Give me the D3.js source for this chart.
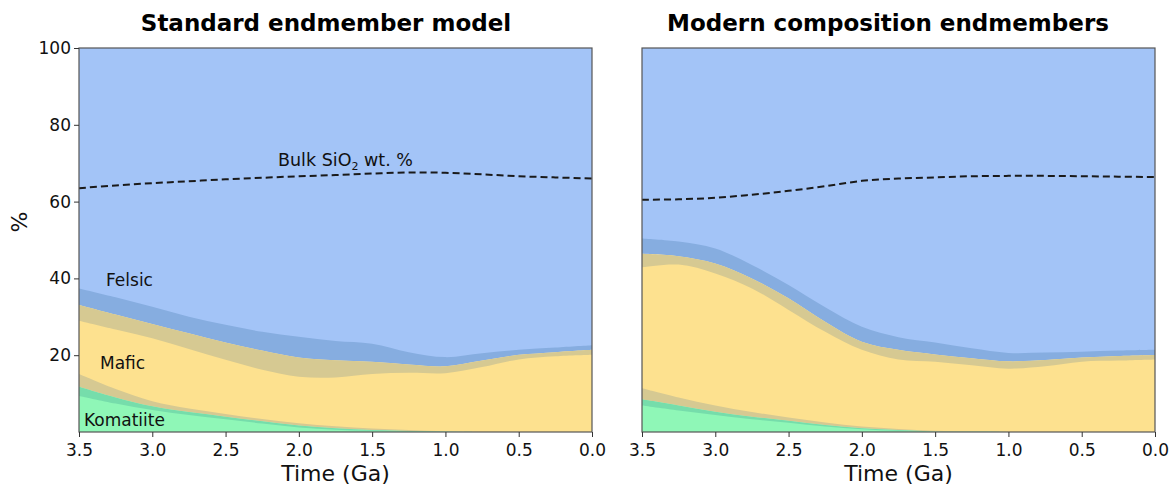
<!DOCTYPE html>
<html><head><meta charset="utf-8">
<script src="https://cdn.jsdelivr.net/npm/d3@7"></script>
<style>body{margin:0;background:#fff}svg{display:block;font-family:"DejaVu Sans",sans-serif}</style>
</head><body><svg id="c" width="1176" height="488"></svg>
<script>
const times = [3.5,3.25,3.0,2.75,2.5,2.25,2.0,1.75,1.5,1.25,1.0,0.75,0.5,0.25,0.0];
const xTicks = [3.5,3.0,2.5,2.0,1.5,1.0,0.5,0.0];
const yTicks = [20,40,60,80,100];
const panelTitles = ["Standard endmember model","Modern composition endmembers"];

// Standard model: komatiite/mafic boundary (low, mean, high)
const stdKomLo  = [9.4,7.4,5.7,4.4,3.3,2.2,1.2,0.6,0.3,0.1,0.05,0,0,0,0];
const stdKom    = [11.8,9.0,6.7,5.2,4.0,2.8,1.7,1.0,0.5,0.25,0.1,0.02,0,0,0];
const stdKomHi  = [15.1,11.2,8.0,6.1,4.7,3.4,2.3,1.5,0.9,0.5,0.2,0.05,0,0,0];
// Standard model: mafic/felsic boundary
const stdMafLo  = [29.0,26.7,24.4,21.6,18.8,16.2,14.4,14.2,15.1,15.4,15.3,16.9,18.9,19.7,20.1];
const stdMaf    = [33.1,30.6,28.1,25.7,23.3,21.2,19.4,18.7,18.3,17.6,17.1,18.6,20.1,20.8,21.4];
const stdMafHi  = [37.4,35.1,32.6,30.0,27.9,26.1,24.8,23.7,23.0,20.8,19.5,20.5,21.4,22.0,22.6];
const stdSiO2   = [63.5,64.2,64.8,65.3,65.8,66.2,66.6,66.9,67.3,67.6,67.5,67.1,66.6,66.3,66.0];

// Modern endmembers
const modKomLo  = [6.9,5.6,4.4,3.3,2.4,1.4,0.7,0.3,0.05,0,0,0,0,0,0];
const modKom    = [8.5,6.9,5.3,4.0,2.95,1.8,0.95,0.5,0.15,0.05,0,0,0,0,0];
const modKomHi  = [11.4,9.0,6.9,5.2,3.8,2.5,1.4,0.8,0.3,0.1,0,0,0,0,0];
const modMafLo  = [42.9,43.6,41.3,37.4,31.8,26.1,21.4,18.9,18.3,17.4,16.5,17.1,18.3,18.6,18.9];
const modMaf    = [46.4,45.8,43.9,40.0,34.8,28.7,23.5,21.4,20.2,19.2,18.4,18.75,19.4,19.8,20.05];
const modMafHi  = [50.4,49.6,47.8,43.5,38.3,32.5,27.4,24.7,23.3,21.8,20.6,20.7,20.9,21.2,21.4];
const modSiO2   = [60.5,60.6,61.0,61.8,62.8,64.0,65.4,66.0,66.3,66.6,66.7,66.7,66.6,66.5,66.4];

const panels = [
  {title:panelTitles[0], x0:79, x1:592, tx:326, kLo:stdKomLo,k:stdKom,kHi:stdKomHi,mLo:stdMafLo,m:stdMaf,mHi:stdMafHi,si:stdSiO2, labels:true, yaxis:true},
  {title:panelTitles[1], x0:642, x1:1155, tx:888, kLo:modKomLo,k:modKom,kHi:modKomHi,mLo:modMafLo,m:modMaf,mHi:modMafHi,si:modSiO2, labels:false, yaxis:false}
];
const C = {felsic:"#a3c4f7", felsicBand:"#86ade0", mafic:"#fde18f", maficBand:"#d6c992", kom:"#8ff7b7", komBand:"#76ddab"};
const svg = d3.select("#c");
const yTop = 48, yBot = 432;
const y = d3.scaleLinear().domain([0,100]).range([yBot,yTop]);
const curve = d3.curveCatmullRom.alpha(0.5);

panels.forEach((p,pi)=>{
  const x = d3.scaleLinear().domain([3.5,0]).range([p.x0,p.x1]);
  const g = svg.append("g");
  const cid = "clip"+pi;
  g.append("clipPath").attr("id",cid).append("rect").attr("x",p.x0).attr("y",yTop).attr("width",p.x1-p.x0).attr("height",yBot-yTop);
  const pg = g.append("g").attr("clip-path",`url(#${cid})`);
  const rows = times.map((t,i)=>({t, kLo:p.kLo[i], k:p.k[i], kHi:p.kHi[i], mLo:p.mLo[i], m:p.m[i], mHi:p.mHi[i], si:p.si[i]}));
  const area = (a,b)=>d3.area().curve(curve).x(d=>x(d.t)).y0(d=>y(Math.max(0,a(d)))).y1(d=>y(Math.max(0,b(d))));
  pg.append("path").attr("fill",C.felsic).attr("d",area(d=>d.m,d=>100)(rows));
  pg.append("path").attr("fill",C.mafic).attr("d",area(d=>d.k,d=>d.m)(rows));
  pg.append("path").attr("fill",C.kom).attr("d",area(d=>0,d=>d.k)(rows));
  pg.append("path").attr("fill",C.felsicBand).attr("d",area(d=>d.m,d=>d.mHi)(rows));
  pg.append("path").attr("fill",C.maficBand).attr("d",area(d=>d.mLo,d=>d.m)(rows));
  pg.append("path").attr("fill",C.maficBand).attr("d",area(d=>d.k,d=>d.kHi)(rows));
  pg.append("path").attr("fill",C.komBand).attr("d",area(d=>d.kLo,d=>d.k)(rows));
  pg.append("path").attr("fill","none").attr("stroke","#1a1a1a").attr("stroke-width",2).attr("stroke-dasharray","7,4")
    .attr("d",d3.line().curve(curve).x(d=>x(d.t)).y(d=>y(d.si))(rows));

  // frame
  g.append("rect").attr("x",p.x0).attr("y",yTop).attr("width",p.x1-p.x0).attr("height",yBot-yTop)
    .attr("fill","none").attr("stroke","#555").attr("stroke-width",1.2);

  // x axis
  const xa = g.append("g").attr("transform",`translate(0,${yBot})`)
    .call(d3.axisBottom(x).tickValues(xTicks).tickFormat(d3.format(".1f")).tickSize(5).tickSizeOuter(0));
  xa.select(".domain").remove();
  xa.selectAll("line").attr("stroke","#333");
  xa.selectAll("text").attr("font-size",17).attr("fill","#111").attr("dy","0.95em").attr("font-family","DejaVu Sans");
  g.append("text").attr("x",(p.x0+p.x1)/2).attr("y",481).attr("text-anchor","middle").attr("font-size",22).attr("fill","#111").text("Time (Ga)");

  if(p.yaxis){
    const ya = g.append("g").attr("transform",`translate(${p.x0},0)`)
      .call(d3.axisLeft(y).tickValues(yTicks).tickSize(5).tickSizeOuter(0));
    ya.select(".domain").remove();
    ya.selectAll("line").attr("stroke","#333");
    ya.selectAll("text").attr("font-size",17).attr("fill","#111").attr("font-family","DejaVu Sans");
    g.append("text").attr("transform","translate(27,222) rotate(-90)").attr("text-anchor","middle").attr("font-size",22).attr("fill","#111").text("%");
  }

  g.append("text").attr("x",p.tx).attr("y",31).attr("text-anchor","middle").attr("font-size",23).attr("font-weight","bold").attr("fill","#000").text(p.title);

  if(p.labels){
    g.append("text").attr("x",106).attr("y",286).attr("font-size",17).attr("fill","#111").text("Felsic");
    g.append("text").attr("x",100).attr("y",369).attr("font-size",17).attr("fill","#111").text("Mafic");
    g.append("text").attr("x",84).attr("y",426).attr("font-size",17).attr("fill","#111").text("Komatiite");
    const t = g.append("text").attr("x",278).attr("y",166).attr("font-size",17.5).attr("fill","#111");
    t.append("tspan").text("Bulk SiO");
    t.append("tspan").attr("font-size",11).attr("dy",4).text("2");
    t.append("tspan").attr("dy",-4).text(" wt. %");
  }
});
</script></body></html>
